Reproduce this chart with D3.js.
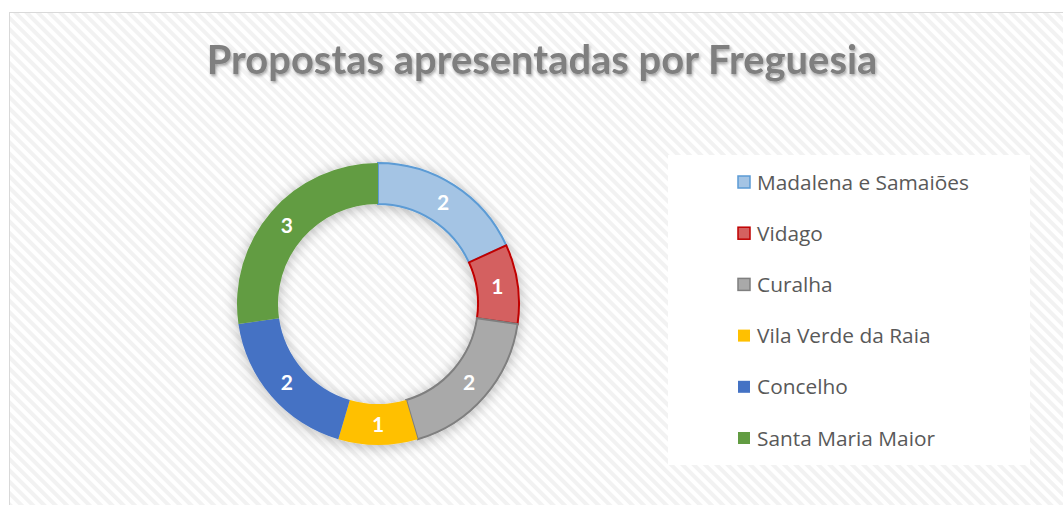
<!DOCTYPE html>
<html><head><meta charset="utf-8">
<script src="https://cdn.jsdelivr.net/npm/d3@7"></script>
<style>html,body{margin:0;padding:0;background:#fff;}svg{display:block;}</style>
</head><body>
<svg id="c" width="1063" height="505"></svg>
<script>
const categories = ["Madalena e Samaiões","Vidago","Curalha","Vila Verde da Raia","Concelho","Santa Maria Maior"];
const values = [2,1,2,1,2,3];
const fills = ["#a4c4e4","#d46160","#a9a9a9","#ffc000","#4472c4","#629c42"];
const strokes = ["#5b9bd5","#c00000","#7f7f7f","none","none","none"];
const title = "Propostas apresentadas por Freguesia";

const svg = d3.select("#c");
const W = 1063, H = 505;
const defs = svg.append("defs");
const pat = defs.append("pattern").attr("id","stripes").attr("patternUnits","userSpaceOnUse")
  .attr("width",8).attr("height",8).attr("patternTransform","rotate(-45)");
pat.append("rect").attr("width",8).attr("height",8).attr("fill","#ffffff");
pat.append("rect").attr("width",4).attr("height",8).attr("fill","#f2f2f2");
const f = defs.append("filter").attr("id","sh").attr("x","-30%").attr("y","-30%").attr("width","160%").attr("height","160%");
f.append("feDropShadow").attr("dx",0).attr("dy",2).attr("stdDeviation",7).attr("flood-color","#000").attr("flood-opacity",0.28);
const ft = defs.append("filter").attr("id","tsh").attr("x","-5%").attr("y","-30%").attr("width","110%").attr("height","160%");
ft.append("feDropShadow").attr("dx",1).attr("dy",2).attr("stdDeviation",1.6).attr("flood-color","#000").attr("flood-opacity",0.35);

svg.append("rect").attr("x",9.5).attr("y",12.5).attr("width",W).attr("height",H).attr("fill","url(#stripes)")
  .attr("stroke","#d9d9d9").attr("stroke-width",1);

// title
const t = svg.append("text").attr("x",542).attr("y",74).attr("text-anchor","middle")
  .attr("font-family","Lato, 'Open Sans', sans-serif").attr("font-weight","bold").attr("font-size",38)
  .attr("fill","#7f7f7f").attr("filter","url(#tsh)").text(title);
const tw = t.node().getComputedTextLength();
t.attr("font-size",38*671/tw);

// donut
const cx = 378, cy = 304, rO = 141, rI = 100;
const pie = d3.pie().sort(null).value(d=>d);
const arcs = pie(values);
const arc = d3.arc().innerRadius(rI).outerRadius(rO);
const g = svg.append("g").attr("transform",`translate(${cx},${cy})`);
g.append("g").attr("filter","url(#sh)").selectAll("path").data(arcs).join("path")
  .attr("d",arc).attr("fill",(d,i)=>fills[i]).attr("stroke",(d,i)=>strokes[i]).attr("stroke-width",2);
const lab = d3.arc().innerRadius((rI+rO)/2).outerRadius((rI+rO)/2);
g.selectAll("text.v").data(arcs).join("text").attr("class","v")
  .attr("transform",d=>`translate(${lab.centroid(d)})`).attr("text-anchor","middle").attr("dy","0.36em")
  .attr("font-family","Lato, 'Open Sans', sans-serif").attr("font-weight","bold").attr("font-size",21)
  .attr("fill","#fff").text(d=>d.data);

// legend
svg.append("rect").attr("x",668).attr("y",155).attr("width",362).attr("height",310).attr("fill","#fff");
const ly = d3.scalePoint().domain(categories).range([182,438]);
const lg = svg.append("g").selectAll("g").data(categories).join("g")
  .attr("transform",d=>`translate(737,${ly(d)})`);
lg.append("rect").attr("x",1).attr("y",-6).attr("width",12).attr("height",12)
  .attr("fill",(d,i)=>fills[i]).attr("stroke",(d,i)=>strokes[i]).attr("stroke-width",1.5);
const lt = lg.append("text").attr("x",20).attr("dy","0.36em")
  .attr("font-family","'Open Sans', sans-serif").attr("font-size",19).attr("fill","#595959").text(d=>d);
const w0 = lt.nodes()[0].getComputedTextLength();
lt.attr("font-size",19*212/w0);
</script>
</body></html>
